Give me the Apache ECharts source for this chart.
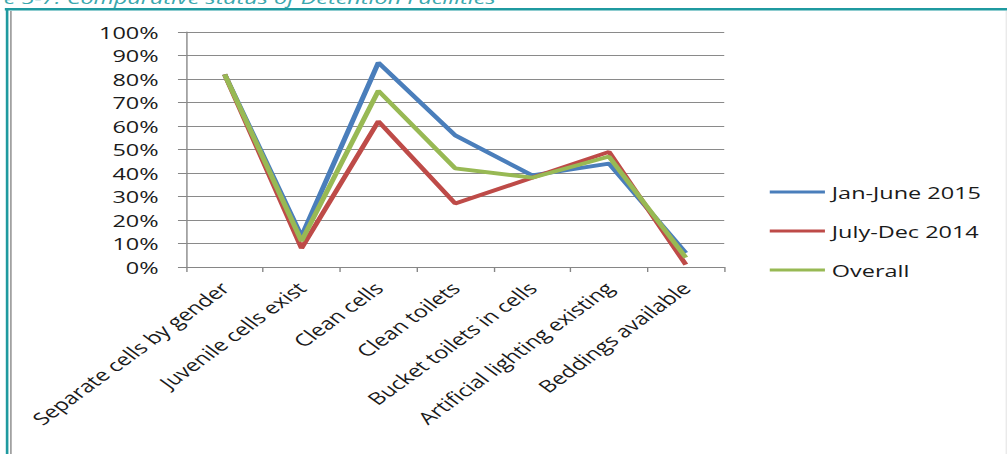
<!DOCTYPE html>
<html>
<head>
<meta charset="utf-8">
<script src="https://cdn.jsdelivr.net/npm/echarts@6/dist/echarts.min.js"></script>
<style>
  html, body { margin: 0; padding: 0; background: #fff; overflow: hidden; }
  /* the source picture is a horizontally stretched screenshot, so the chart is drawn narrow and widened */
  #main { width: 730px; height: 454px; transform: scaleX(1.3795); transform-origin: 0 0; }
</style>
</head>
<body>
<div id="main"></div>
<script>
  const categories = ['Separate cells by gender', 'Juvenile cells exist', 'Clean cells', 'Clean toilets',
    'Bucket toilets in cells', 'Artificial lighting existing', 'Beddings available'];
  const janJune2015 = [82, 13, 87, 56, 39, 44, 6];
  const julyDec2014 = [82, 8, 62, 27, 38, 49, 1];
  const overall = [82, 11, 75, 42, 38, 47, 4];
  const seriesNames = ['Jan-June 2015', 'July-Dec 2014', 'Overall'];
  const colors = ['#4A7EBB', '#BE4B48', '#98B954'];

  const font = 'Open Sans';
  let chart = echarts.init(document.getElementById('main'), null, { renderer: 'svg' });

  function line(name, data) {
    return {
      name: name,
      type: 'line',
      data: data,
      symbol: 'none',
      lineStyle: { width: 3.8 },
      emphasis: { disabled: true }
    };
  }

  chart.setOption({
    animation: false,
    color: colors,
    graphic: [
      // caption cut off at the top of the crop
      {
        type: 'text', left: -35, top: -11,
        style: { text: 'Figure 5-7: Comparative status of Detention Facilities', fill: '#3AA8AE',
          font: 'italic 17px "Open Sans"' }
      },
      { type: 'rect', shape: { x: 3.5, y: 8, width: 726.5, height: 2.5 }, style: { fill: '#1F9AA0' } },
      { type: 'rect', shape: { x: 4.2, y: 8, width: 1.9, height: 450 }, style: { fill: '#1F9AA0' } },
      { type: 'rect', shape: { x: 7.3, y: 11, width: 1.2, height: 450 }, style: { fill: '#9a9a9a' } },
      { type: 'rect', shape: { x: 729, y: 11, width: 0.8, height: 450 }, style: { fill: '#e4e4e4' } }
    ],
    legend: {
      orient: 'vertical',
      left: 553,
      top: 177,
      icon: 'rect',
      itemWidth: 40,
      itemHeight: 3,
      itemGap: 19,
      data: seriesNames,
      textStyle: { fontFamily: font, fontSize: 17, color: '#1a1a1a', lineHeight: 20 }
    },
    grid: { left: 135, right: 205, top: 32, bottom: 187 },
    xAxis: {
      type: 'category',
      data: categories,
      boundaryGap: true,
      axisLine: { lineStyle: { color: '#868686', width: 1 } },
      axisTick: { show: true, length: 5, lineStyle: { color: '#868686' } },
      axisLabel: { rotate: 45, margin: 18, interval: 0, fontFamily: font, fontSize: 17, color: '#1a1a1a' }
    },
    yAxis: {
      type: 'value',
      min: 0,
      max: 100,
      interval: 10,
      axisLine: { show: true, lineStyle: { color: '#868686', width: 1 } },
      axisTick: { show: true, length: 6, lineStyle: { color: '#868686' } },
      splitLine: { lineStyle: { color: '#8a8a8a', width: 1 } },
      axisLabel: { formatter: '{value}%', margin: 20, fontFamily: font, fontSize: 17, color: '#1a1a1a' }
    },
    series: [
      line(seriesNames[0], janJune2015),
      line(seriesNames[1], julyDec2014),
      line(seriesNames[2], overall)
    ]
  });
</script>
</body>
</html>
